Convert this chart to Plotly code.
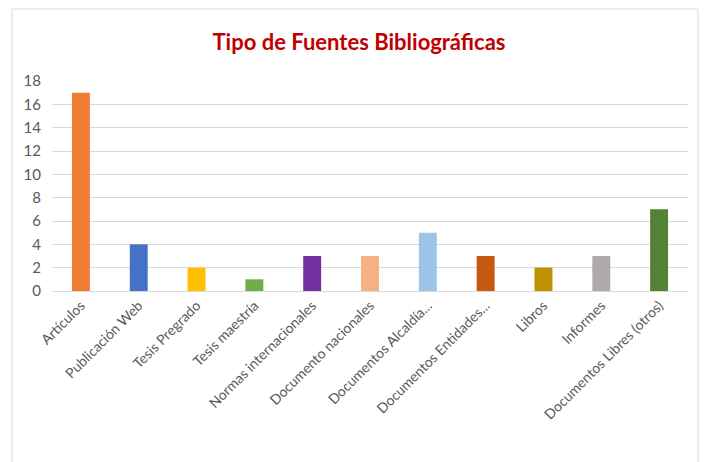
import plotly.graph_objects as go

categories = ["Artículos", "Publicación Web", "Tesis Pregrado", "Tesis maestría",
              "Normas internacionales", "Documento nacionales", "Documentos Alcaldía...",
              "Documentos Entidades...", "Libros", "Informes", "Documentos Libres (otros)"]
values = [17, 4, 2, 1, 3, 3, 5, 3, 2, 3, 7]
colors = ["#ED7D31", "#4472C4", "#FFC000", "#70AD47", "#7030A0", "#F4B183",
          "#9DC3E6", "#C55A11", "#BF9000", "#AEAAAA", "#548235"]
y_ticks = [0, 2, 4, 6, 8, 10, 12, 14, 16, 18]

fig = go.Figure(go.Bar(x=categories, y=values, marker=dict(color=colors, line=dict(width=0)),
                       width=0.31))

# page body has an 8px offset
OFF = 8
W, H = 709, 462
L, R, T, B = 52 - OFF, W - (688 - OFF), 81 - OFF, H - (291 - OFF)
pw, ph = W - L - R, H - T - B

fig.update_layout(
    width=W, height=H,
    margin=dict(l=L, r=R, t=T, b=B),
    paper_bgcolor="white", plot_bgcolor="white",
    showlegend=False,
    title=dict(text="<b>Tipo de Fuentes Bibliográficas</b>", x=(359 - OFF) / W, xanchor="center",
               y=1 - (42 - OFF) / H, yanchor="middle",
               font=dict(family="Lato", size=22, color="#C00000")),
    font=dict(family="Lato", color="#595959"),
    xaxis=dict(tickangle=-45, tickfont=dict(size=14, color="#595959"), showgrid=False,
               showline=True, linecolor="#D9D9D9", linewidth=1, ticks=""),
    yaxis=dict(range=[0, 18], tickvals=y_ticks, tickfont=dict(size=15, color="#595959"),
               showgrid=True, gridcolor="#D9D9D9", gridwidth=1, zeroline=False,
               showline=False, ticks="", ticklabelstandoff=10),
    shapes=[dict(type="rect", xref="paper", yref="paper",
                 x0=(12 - OFF - L) / pw, x1=(698 - OFF - L) / pw,
                 y0=(H - B - 480) / ph, y1=(H - B - 1) / ph,
                 line=dict(color="#D9D9D9", width=1), fillcolor="rgba(0,0,0,0)", layer="below")],
)

fig.write_html("out.html")
